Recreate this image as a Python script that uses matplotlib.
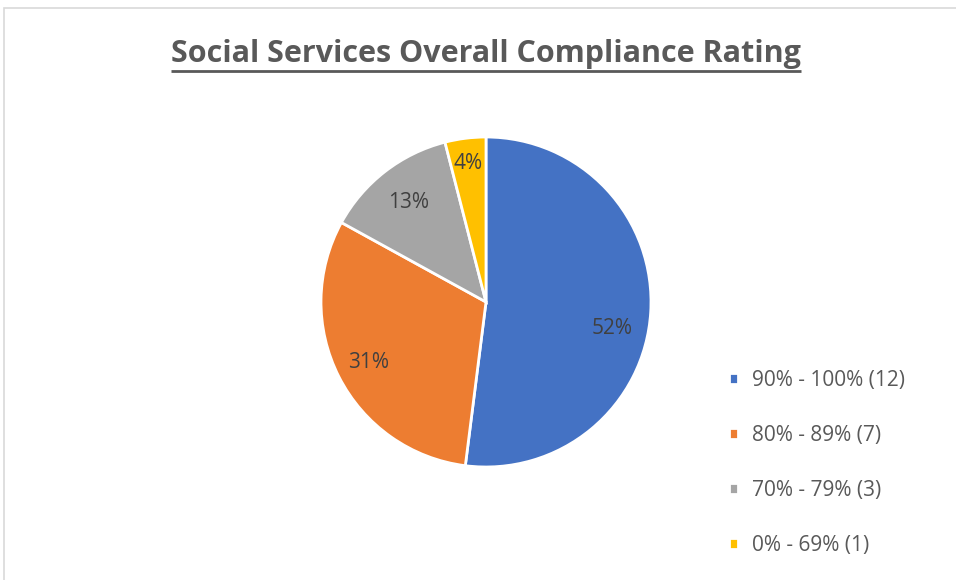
import matplotlib.pyplot as plt
import numpy as np
from matplotlib.patches import Rectangle

# Данные
categories = ['90% - 100% (12)', '80% - 89% (7)', '70% - 79% (3)', '0% - 69% (1)']
shares = [52, 31, 13, 4]
pct_labels = ['52%', '31%', '13%', '4%']
colors = ['#4472C4', '#ED7D31', '#A5A5A5', '#FFC000']

W, H = 956, 580
fig = plt.figure(figsize=(W / 100, H / 100), dpi=100)
ax = fig.add_axes([0, 0, 1, 1])

# Рамка области диаграммы
fig.patches.append(Rectangle((4 / W, -0.1), 1.1, (H - 8) / H + 0.1, transform=fig.transFigure,
                             fill=False, edgecolor='#D9D9D9', linewidth=1.2))

cx, cy, r = 486, H - 302, 165
wedges, _ = ax.pie(shares, colors=colors, startangle=90, counterclock=False,
                   center=(cx, cy), radius=r, frame=True,
                   wedgeprops=dict(edgecolor='white', linewidth=2))
ax.set_xlim(0, W)
ax.set_ylim(0, H)
ax.set_aspect('equal')
ax.axis('off')

# Подписи процентов
dist = [0.78, 0.80, 0.77, 0.85]
shift = [-8, 0, 0, 0]
for w, lab, d, s in zip(wedges, pct_labels, dist, shift):
    ang = np.deg2rad((w.theta1 + w.theta2) / 2 + s)
    ax.text(cx + d * r * np.cos(ang), cy + d * r * np.sin(ang) - 1, lab,
            ha='center', va='center', fontsize=15, color='#404040', family='Open Sans')

# Заголовок
title = ax.text(486, H - 62, 'Social Services Overall Compliance Rating', ha='center', va='baseline',
                fontsize=22, fontweight='bold', color='#595959', family='Open Sans')
fig.canvas.draw()
bb = title.get_window_extent()
ax.plot([bb.x0, bb.x1], [H - 71, H - 71], color='#595959', linewidth=2, solid_capstyle='butt')

# Легенда
ax.legend(wedges, categories, loc='upper left', bbox_to_anchor=(729 / W, 1 - 370 / H),
          frameon=False, labelcolor='#595959', prop={'family': 'Open Sans', 'size': 15},
          handlelength=0.42, handleheight=0.42, handletextpad=0.66, labelspacing=1.63,
          borderaxespad=0, borderpad=0)

fig.savefig('out.png', dpi=100)
